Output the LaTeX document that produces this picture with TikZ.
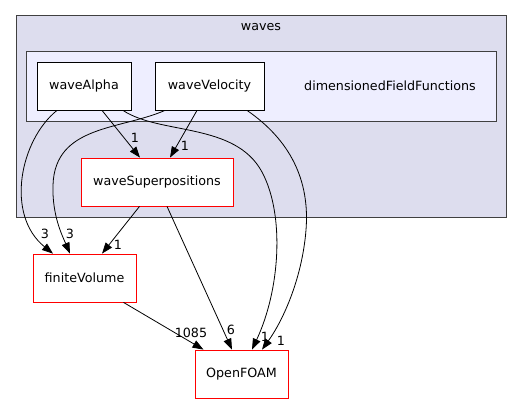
\documentclass[tikz,border=0pt]{standalone}
\usepackage{fontspec}
\setmainfont{DejaVu Sans}
\usetikzlibrary{arrows.meta,positioning}
\definecolor{clouter}{HTML}{DDDDEE}
\definecolor{clinner}{HTML}{EEEEFF}
\definecolor{clline}{HTML}{404040}
\tikzset{
  >={Triangle[length=11pt,width=8pt]},
  % kataloger
  dirbox/.style={draw=black,fill=white,line width=0.8pt,minimum height=48pt,
                 inner sep=0pt,font=\fontsize{12.7}{14}\selectfont},
  extbox/.style={dirbox,draw=red},
  clust/.style={draw=clline,line width=1pt},
  dep/.style={->,draw=black,line width=0.8pt},
  dl/.style={font=\fontsize{12.7}{14}\selectfont,inner sep=0pt},
}
\begin{document}
\begin{tikzpicture}[x=1pt,y=-1pt]
  \useasboundingbox (0,0) rectangle (527,404);
  \draw[clust,fill=clouter] (16,16) rectangle (506,217);
  \node[dl] (lwaves) at (261,27) {waves};
  \draw[clust,fill=clinner] (26,52) rectangle (496,121);
  \node[dl] (ldff) at (390,86) {dimensionedFieldFunctions};
  \node[dirbox,minimum width=94pt] (wa) at (84,86) {waveAlpha};
  \node[dirbox,minimum width=109pt] (wv) at (209.5,86) {waveVelocity};
  \node[extbox,minimum width=152pt] (ws) at (157,182) {waveSuperpositions};
  \node[extbox,minimum width=103pt] (fv) at (84.5,278) {finiteVolume};
  \node[extbox,minimum width=93pt] (of) at (241.5,374) {OpenFOAM};
  % beroenden
  \draw[dep] ([xshift=18pt]wa.south) -- ([xshift=-17pt]ws.north);
  \node[dl] (l1) at (135,138) {1};
  \draw[dep] ([xshift=-12.5pt]wv.south) -- ([xshift=13pt]ws.north);
  \node[dl] (l2) at (185,146) {1};
  \draw[dep] ([xshift=-27pt]wa.south) .. controls (20,140) and (5,215) .. ([xshift=-31.5pt]fv.north);
  \node[dl] (l3) at (45,234) {3};
  \draw[dep] ([xshift=-44.5pt]wv.south) .. controls (120,130) and (55,125) .. (53,185)
    .. controls (52,215) and (62,235) .. ([xshift=-14.5pt]fv.north);
  \node[dl] (l4) at (70,234) {3};
  \draw[dep] ([xshift=39pt]wa.south) .. controls (160,135) and (235,122) .. (262,172)
    .. controls (285,215) and (280,290) .. ([xshift=10.5pt]of.north);
  \node[dl] (l5) at (265,337) {1};
  \draw[dep] ([xshift=37.5pt]wv.south) .. controls (290,140) and (310,180) .. (306,230)
    .. controls (302,280) and (282,322) .. ([xshift=20.5pt]of.north);
  \node[dl] (l6) at (281,341) {1};
  \draw[dep] ([xshift=-17.5pt]ws.south) -- ([xshift=17.5pt]fv.north);
  \node[dl] (l7) at (118,245) {1};
  \draw[dep] ([xshift=10pt]ws.south) -- ([xshift=-9.5pt]of.north);
  \node[dl] (l8) at (231,330) {6};
  \draw[dep] ([xshift=39pt]fv.south) -- ([xshift=-38pt]of.north);
  \node[dl] (l9) at (191,333) {1085};
\end{tikzpicture}
\end{document}
